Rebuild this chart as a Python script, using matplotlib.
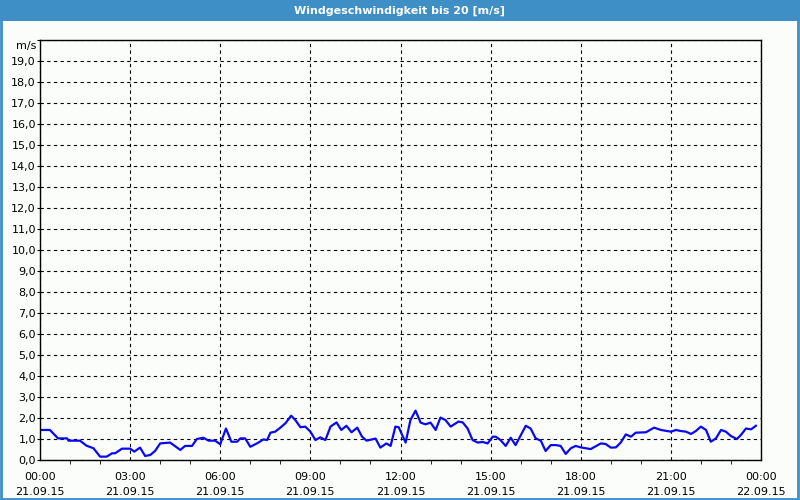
import matplotlib
matplotlib.use('Agg')
import matplotlib.pyplot as plt
from matplotlib.patches import Rectangle
from matplotlib.ticker import MultipleLocator, FuncFormatter

# hours since 21.09.15 00:00 and wind speed in m/s
hours = [0.0, 0.33, 0.6, 0.9, 0.95, 1.33, 1.55, 1.78, 2.0, 2.22, 2.4, 2.5, 2.73, 3.0,
         3.14, 3.33, 3.5, 3.67, 3.83, 4.0, 4.33, 4.67, 4.83, 5.06, 5.22, 5.44, 5.61,
         5.83, 6.0, 6.19, 6.37, 6.56, 6.67, 6.83, 7.0, 7.22, 7.44, 7.56, 7.67, 7.83,
         8.0, 8.17, 8.36, 8.5, 8.67, 8.83, 9.0, 9.17, 9.33, 9.5, 9.67, 9.87, 10.03,
         10.2, 10.37, 10.56, 10.72, 10.87, 11.17, 11.33, 11.53, 11.67, 11.83, 11.94,
         12.17, 12.33, 12.5, 12.67, 12.83, 13.0, 13.17, 13.33, 13.5, 13.67, 13.93,
         14.07, 14.23, 14.4, 14.57, 14.73, 14.9, 15.07, 15.17, 15.33, 15.5, 15.67,
         15.83, 16.17, 16.33, 16.5, 16.67, 16.83, 17.0, 17.17, 17.33, 17.5, 17.67,
         17.83, 18.0, 18.33, 18.67, 18.83, 19.0, 19.17, 19.33, 19.5, 19.67, 19.83,
         20.17, 20.44, 20.67, 21.0, 21.17, 21.33, 21.5, 21.67, 21.83, 22.0, 22.17,
         22.33, 22.5, 22.67, 22.83, 23.0, 23.2, 23.33, 23.5, 23.67, 23.83]
speed = [1.43, 1.43, 1.03, 1.03, 0.92, 0.92, 0.68, 0.56, 0.16, 0.16, 0.32, 0.32, 0.54, 0.54,
         0.40, 0.59, 0.19, 0.24, 0.43, 0.79, 0.83, 0.48, 0.67, 0.67, 1.0, 1.06, 0.92,
         0.92, 0.75, 1.5, 0.87, 0.87, 1.03, 1.03, 0.63, 0.79, 0.98, 0.95, 1.3, 1.35,
         1.54, 1.75, 2.11, 1.9, 1.56, 1.59, 1.35, 0.95, 1.08, 0.95, 1.59, 1.79, 1.43,
         1.63, 1.32, 1.54, 1.11, 0.92, 1.02, 0.59, 0.79, 0.67, 1.59, 1.56,
         0.83, 1.9, 2.35, 1.78, 1.7, 1.78, 1.43, 2.02, 1.9, 1.59, 1.83,
         1.79, 1.51, 0.95, 0.83, 0.86, 0.79, 1.11, 1.11, 0.95, 0.67, 1.06,
         0.71, 1.63, 1.5, 1.03, 0.92, 0.43, 0.71, 0.71, 0.67, 0.29, 0.56,
         0.67, 0.6, 0.52, 0.79, 0.76, 0.59, 0.6, 0.83, 1.22, 1.11, 1.3,
         1.32, 1.54, 1.43, 1.35, 1.43, 1.38, 1.35, 1.24, 1.38, 1.59, 1.43,
         0.87, 1.03, 1.43, 1.35, 1.14, 1.0, 1.19, 1.5, 1.46, 1.63]

xtick_hours = [0, 3, 6, 9, 12, 15, 18, 21, 24]
xtick_labels = ['00:00\n21.09.15', '03:00\n21.09.15', '06:00\n21.09.15', '09:00\n21.09.15',
                '12:00\n21.09.15', '15:00\n21.09.15', '18:00\n21.09.15', '21:00\n21.09.15',
                '00:00\n22.09.15']

bg = '#fafdfa'
blue = '#3d8fc6'

fig = plt.figure(figsize=(8, 5), dpi=100, facecolor=bg)

# window frame: title bar and thin border
fig.patches.append(Rectangle((0, 0.958), 1, 0.042, transform=fig.transFigure,
                             facecolor=blue, edgecolor='none'))
fig.patches.append(Rectangle((0.001, 0.002), 0.997, 0.996, transform=fig.transFigure,
                             facecolor='none', edgecolor=blue, linewidth=2))
fig.text(0.5, 0.979, 'Windgeschwindigkeit bis 20 [m/s]', color='white',
         ha='center', va='center', fontsize=8, fontweight='bold')

ax = fig.add_axes([0.05, 0.08, 0.90125, 0.84])
ax.set_facecolor(bg)
ax.plot(hours, speed, color='#0a0aee', linewidth=1.6)

ax.set_xlim(0, 24)
ax.set_ylim(0, 20)
ax.set_xticks(xtick_hours)
ax.set_xticklabels(xtick_labels, fontsize=8, linespacing=1.6)
ax.xaxis.set_minor_locator(MultipleLocator(1))
ax.yaxis.set_major_locator(MultipleLocator(1))
ax.yaxis.set_major_formatter(FuncFormatter(lambda v, p: '' if v >= 20 else f'{v:.1f}'.replace('.', ',')))
ax.tick_params(axis='y', labelsize=8, length=2, pad=1)
ax.tick_params(axis='x', which='major', length=0, pad=9)
ax.tick_params(axis='x', which='minor', length=3, direction='out')

ax.grid(True, which='major', color='black', linestyle=(0, (3, 3)), linewidth=0.8)
for s in ax.spines.values():
    s.set_linewidth(1)
    s.set_color('black')

fig.text(0.046, 0.908, 'm/s', fontsize=8, ha='right', va='center')

plt.savefig('out.png', dpi=100, facecolor=bg)
